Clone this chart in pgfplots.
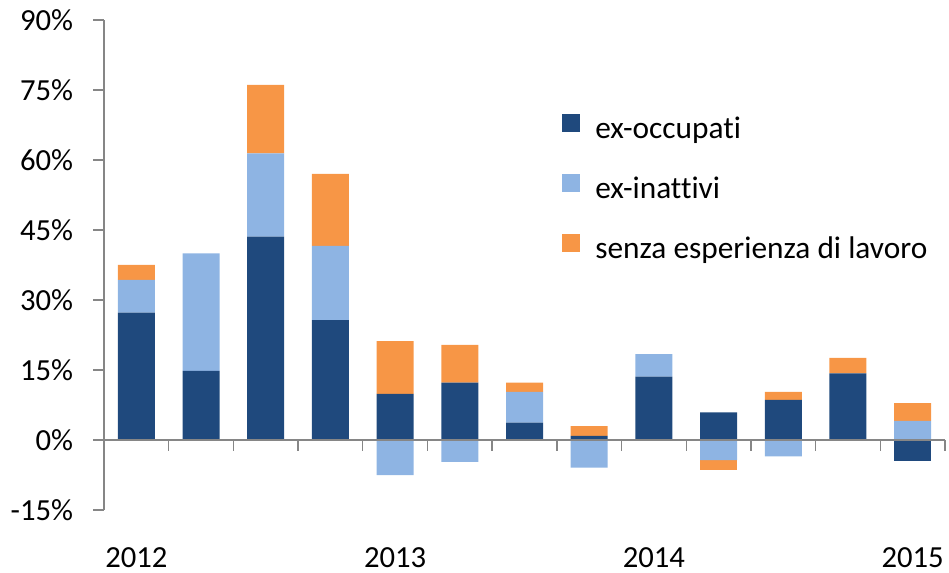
\documentclass[border=0pt]{standalone}
\usepackage{pgfplots}
\pgfplotsset{compat=1.18}
\usepackage{pgfplotstable}
\usepackage{fontspec}
\setmainfont{Carlito}[Ligatures=NoCommon]
\definecolor{darkb}{HTML}{1F497D}
\definecolor{lightb}{HTML}{8EB4E3}
\definecolor{orng}{HTML}{F79646}
\definecolor{axisgray}{HTML}{868686}
\pgfplotstableread{
q dark light orange
1 27.3 7.0 3.2
2 14.8 25.2 0
3 43.6 17.8 14.7
4 25.7 15.9 15.4
5 9.9 -7.5 11.3
6 12.3 -4.7 8.1
7 3.7 6.6 2.0
8 0.9 -5.9 2.1
9 13.6 4.8 0
10 5.9 -4.3 -2.1
11 8.6 -3.5 1.7
12 14.3 0 3.3
13 -4.4 4.1 3.8
}\data
\begin{document}
\fontsize{23}{27}\selectfont
\begin{tikzpicture}
\pgfplotsset{common/.style={scale only axis, width=630.75pt, height=367.5pt,
  xmin=0.5, xmax=13.5, ymin=-15, ymax=90, ybar stacked, bar width=27.75pt}}
\begin{axis}[common, hide axis]
\addplot[fill=darkb,draw=none] table[x=q,y expr={min(\thisrow{dark},0)}]{\data};
\addplot[fill=lightb,draw=none] table[x=q,y expr={min(\thisrow{light},0)}]{\data};
\addplot[fill=orng,draw=none] table[x=q,y expr={min(\thisrow{orange},0)}]{\data};
\end{axis}
\begin{axis}[common, axis on top, clip=false,
  axis y line*=left, axis x line*=middle,
  axis line style={draw=axisgray, line width=1pt, -},
  ytick={-15,0,15,30,45,60,75,90},
  yticklabels={-15\%,0\%,15\%,30\%,45\%,60\%,75\%,90\%},
  xtick={1.5,2.5,...,13.5}, xticklabels={},
  tick align=outside, major tick length=8pt,
  tick style={draw=axisgray, line width=1pt},
  yticklabel style={anchor=east, inner sep=0pt, xshift=-15pt},
  legend cell align=left,
  legend image code/.code={\fill[#1] (0pt,-0.6pt) rectangle (13.5pt,12.9pt);},
  legend style={at={(rel axis cs:0.5446,0.8094)}, anchor=north west, draw=none, fill=none,
    inner sep=0pt, row sep=21.7pt, column sep=11.25pt,
    nodes={inner sep=0pt, text height=16pt, text depth=5pt},
    font=\fontsize{23.5}{27}\selectfont},
]
\addplot[fill=darkb,draw=none] table[x=q,y expr={max(\thisrow{dark},0)}]{\data};
\addplot[fill=lightb,draw=none] table[x=q,y expr={max(\thisrow{light},0)}]{\data};
\addplot[fill=orng,draw=none] table[x=q,y expr={max(\thisrow{orange},0)}]{\data};
\legend{ex-occupati, ex-inattivi, senza esperienza di lavoro}
\node[anchor=base, inner sep=0pt, yshift=-42.75pt] at (axis cs:1,-15) {2012};
\node[anchor=base, inner sep=0pt, yshift=-42.75pt] at (axis cs:5,-15) {2013};
\node[anchor=base, inner sep=0pt, yshift=-42.75pt] at (axis cs:9,-15) {2014};
\node[anchor=base, inner sep=0pt, yshift=-42.75pt] at (axis cs:13,-15) {2015};
\end{axis}
\pgfresetboundingbox
\useasboundingbox (-78pt,-46.5pt) rectangle (633.75pt,382.5pt);
\end{tikzpicture}
\end{document}
